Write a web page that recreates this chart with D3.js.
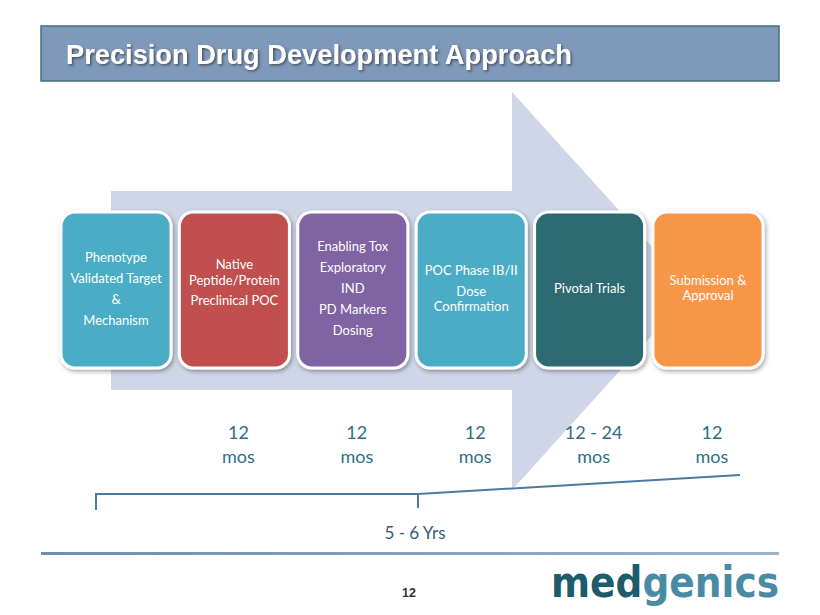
<!DOCTYPE html>
<html><head><meta charset="utf-8">
<script src="https://cdn.jsdelivr.net/npm/d3@7"></script>
<style>body{margin:0;background:#fff}svg{display:block}</style>
</head><body>
<script>
const stages = [
  ["Phenotype","Validated Target","&","Mechanism"],
  ["Native","Peptide/Protein","Preclinical POC"],
  ["Enabling Tox","Exploratory","IND","PD Markers","Dosing"],
  ["POC Phase IB/II","Dose","Confirmation"],
  ["Pivotal Trials"],
  ["Submission  &","Approval"]
];
const stageColors = ["#4BACC6","#C0504D","#8064A2","#4BACC6","#2F6A72","#F79646"];
const durationTop = ["", "12","12","12","12 - 24","12"];
const durationBottom = ["", "mos","mos","mos","mos","mos"];
const totalLabel = "5 - 6 Yrs";
const title = "Precision Drug Development Approach";
const logoParts = ["med","genics"];
const logoColors = ["#1E5B6B","#4A8BA4"];

const W = 820, H = 615;
const svg = d3.select("body").append("svg").attr("width", W).attr("height", H);
const defs = svg.append("defs");
const f = defs.append("filter").attr("id","sh").attr("x","-20%").attr("y","-20%").attr("width","140%").attr("height","140%");
f.append("feDropShadow").attr("dx",1.5).attr("dy",2).attr("stdDeviation",2).attr("flood-color","#000").attr("flood-opacity",0.35);
const ts = defs.append("filter").attr("id","tsh");
ts.append("feDropShadow").attr("dx",1.5).attr("dy",1.5).attr("stdDeviation",0.8).attr("flood-color","#333").attr("flood-opacity",0.7);
const lg = defs.append("linearGradient").attr("id","sep").attr("x1","0").attr("x2","1");
lg.append("stop").attr("offset","0").attr("stop-color","#6F8DAE");
lg.append("stop").attr("offset","1").attr("stop-color","#9FB3CB");

// Title banner
svg.append("rect").attr("x",41).attr("y",26).attr("width",738).attr("height",55)
  .attr("fill","#7F99BB").attr("stroke","#41707C").attr("stroke-width",1.5);
svg.append("text").attr("x",66).attr("y",64).text(title)
  .attr("font-family","Liberation Sans, Arial, sans-serif").attr("font-weight","bold")
  .attr("font-size",28).attr("fill","#fff").attr("filter","url(#tsh)")
  .attr("textLength",506).attr("lengthAdjust","spacingAndGlyphs");

// Scale for boxes
const x = d3.scaleBand().domain(d3.range(stages.length)).range([61, 763]).paddingInner(0.0705).paddingOuter(0);
const boxTop = 212, boxH = 156;

// Big arrow
const arrowPts = [[111,191],[512,191],[512,92],[692,291],[512,490],[512,390],[111,390]];
svg.append("path").attr("d", d3.line()(arrowPts)+"Z").attr("fill","#CFD6E7");

// Boxes
const bw = x.bandwidth();
const g = svg.selectAll("g.stage").data(stages).join("g").attr("class","stage")
  .attr("transform",(d,i)=>`translate(${x(i)},${boxTop})`);
g.append("rect").attr("width",bw).attr("height",boxH).attr("rx",14)
  .attr("fill",(d,i)=>stageColors[i]).attr("stroke","#fff").attr("stroke-width",3).attr("filter","url(#sh)");
g.each(function(d,i){
  const n = d.length;
  let ys;
  if (i===1) ys = [57, 73, 93];
  else if (i===3) ys = [63, 84, 99];
  else if (i===5) ys = [73, 88];
  else { const c = boxH/2 + 3; ys = d.map((_,k)=> c + (k-(n-1)/2)*21); }
  d3.select(this).selectAll("text").data(d).join("text")
    .attr("x",bw/2).attr("y",(t,k)=>ys[k])
    .attr("text-anchor","middle").attr("fill","#fff")
    .attr("font-family","Lato, 'Open Sans', sans-serif").attr("font-size",13)
    .text(t=>t);
});

// Durations
const dx = (i)=> x(i)+bw/2 + 4;
const dur = svg.selectAll("g.dur").data(durationTop).join("g").attr("class","dur");
dur.append("text").attr("x",(d,i)=>dx(i)).attr("y",439).attr("text-anchor","middle")
  .attr("font-family","Lato, 'Open Sans', sans-serif").attr("font-size",18).attr("fill","#2F6E87").text(d=>d);
dur.append("text").attr("x",(d,i)=>dx(i)).attr("y",463).attr("text-anchor","middle")
  .attr("font-family","Lato, 'Open Sans', sans-serif").attr("font-size",18).attr("fill","#2F6E87").text((d,i)=>durationBottom[i]);

// Bracket
const lc = "#4E7AA3";
svg.append("path").attr("d","M96,510 L96,494 L418,494 L740,475").attr("fill","none").attr("stroke",lc).attr("stroke-width",2);
svg.append("path").attr("d","M418,494 L418,508").attr("fill","none").attr("stroke",lc).attr("stroke-width",2);
svg.append("text").attr("x",415).attr("y",539).attr("text-anchor","middle")
  .attr("font-family","Lato, 'Open Sans', sans-serif").attr("font-size",17).attr("fill","#2F5E73").text(totalLabel);

// Separator
svg.append("rect").attr("x",41).attr("y",552).attr("width",738).attr("height",3).attr("fill","url(#sep)");

// Page number
svg.append("text").attr("x",409).attr("y",597).attr("text-anchor","middle")
  .attr("font-family","Liberation Sans, Arial, sans-serif").attr("font-weight","bold").attr("font-size",12.5).attr("fill","#333").text("12");

// Logo: two adjacent texts, horizontally scaled to fit
const logoG = svg.append("g");
let cx = 0;
const parts = logoG.selectAll("text").data(logoParts).join("text")
  .attr("y",0).attr("font-family","'DejaVu Sans', sans-serif").attr("font-weight","bold").attr("font-size",42)
  .attr("fill",(d,i)=>logoColors[i]).text(d=>d);
parts.each(function(){ d3.select(this).attr("x", cx); cx += this.getComputedTextLength(); });
const sx = 228 / cx;
logoG.attr("transform",`translate(551,597) scale(${sx},1)`);
</script>
</body></html>
